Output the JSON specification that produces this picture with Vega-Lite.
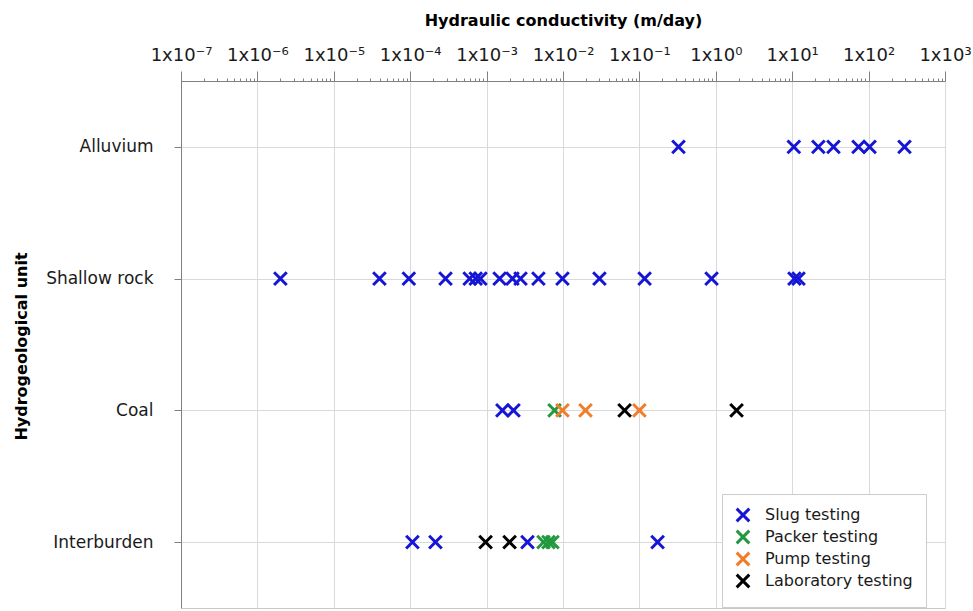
{
  "$schema": "https://vega.github.io/schema/vega-lite/v6.json",
  "width": 764,
  "height": 527,
  "autosize": "none",
  "padding": {"left": 181, "top": 81, "right": 28, "bottom": 3},
  "background": "white",
  "config": {"font": "DejaVu Sans", "view": {"stroke": "#c8c8c8"}},
  "data": {"values": [
    {"unit": "Alluvium", "k": 0.325, "method": "Slug testing"},
    {"unit": "Alluvium", "k": 10.5, "method": "Slug testing"},
    {"unit": "Alluvium", "k": 22, "method": "Slug testing"},
    {"unit": "Alluvium", "k": 34.7, "method": "Slug testing"},
    {"unit": "Alluvium", "k": 73.8, "method": "Slug testing"},
    {"unit": "Alluvium", "k": 103, "method": "Slug testing"},
    {"unit": "Alluvium", "k": 295, "method": "Slug testing"},
    {"unit": "Shallow rock", "k": 2.0e-6, "method": "Slug testing"},
    {"unit": "Shallow rock", "k": 3.96e-5, "method": "Slug testing"},
    {"unit": "Shallow rock", "k": 9.6e-5, "method": "Slug testing"},
    {"unit": "Shallow rock", "k": 2.9e-4, "method": "Slug testing"},
    {"unit": "Shallow rock", "k": 6.0e-4, "method": "Slug testing"},
    {"unit": "Shallow rock", "k": 7.2e-4, "method": "Slug testing"},
    {"unit": "Shallow rock", "k": 8.3e-4, "method": "Slug testing"},
    {"unit": "Shallow rock", "k": 1.48e-3, "method": "Slug testing"},
    {"unit": "Shallow rock", "k": 2.18e-3, "method": "Slug testing"},
    {"unit": "Shallow rock", "k": 2.78e-3, "method": "Slug testing"},
    {"unit": "Shallow rock", "k": 4.77e-3, "method": "Slug testing"},
    {"unit": "Shallow rock", "k": 9.84e-3, "method": "Slug testing"},
    {"unit": "Shallow rock", "k": 0.030, "method": "Slug testing"},
    {"unit": "Shallow rock", "k": 0.117, "method": "Slug testing"},
    {"unit": "Shallow rock", "k": 0.88, "method": "Slug testing"},
    {"unit": "Shallow rock", "k": 10.7, "method": "Slug testing"},
    {"unit": "Shallow rock", "k": 12.1, "method": "Slug testing"},
    {"unit": "Coal", "k": 1.61e-3, "method": "Slug testing"},
    {"unit": "Coal", "k": 2.25e-3, "method": "Slug testing"},
    {"unit": "Interburden", "k": 1.07e-4, "method": "Slug testing"},
    {"unit": "Interburden", "k": 2.14e-4, "method": "Slug testing"},
    {"unit": "Interburden", "k": 3.43e-3, "method": "Slug testing"},
    {"unit": "Interburden", "k": 0.173, "method": "Slug testing"},
    {"unit": "Coal", "k": 7.75e-3, "method": "Packer testing"},
    {"unit": "Interburden", "k": 5.56e-3, "method": "Packer testing"},
    {"unit": "Interburden", "k": 6.46e-3, "method": "Packer testing"},
    {"unit": "Interburden", "k": 7.28e-3, "method": "Packer testing"},
    {"unit": "Coal", "k": 9.84e-3, "method": "Pump testing"},
    {"unit": "Coal", "k": 0.0197, "method": "Pump testing"},
    {"unit": "Coal", "k": 0.1, "method": "Pump testing"},
    {"unit": "Coal", "k": 0.064, "method": "Laboratory testing"},
    {"unit": "Coal", "k": 1.87, "method": "Laboratory testing"},
    {"unit": "Interburden", "k": 9.7e-4, "method": "Laboratory testing"},
    {"unit": "Interburden", "k": 2.0e-3, "method": "Laboratory testing"}
  ]},
  "mark": {"type": "point", "shape": "M-1,-1L1,1M-1,1L1,-1", "filled": false, "strokeWidth": 3, "size": 160, "opacity": 1},
  "encoding": {
    "x": {
      "field": "k",
      "type": "quantitative",
      "scale": {"type": "log", "domain": [1e-7, 1000], "nice": false},
      "axis": {
        "orient": "top",
        "title": "Hydraulic conductivity (m/day)",
        "titleFontSize": 16,
        "titleFontWeight": "bold",
        "titleColor": "black",
        "titleY": -56,
        "titleBaseline": "alphabetic",
        "values": [1e-7,2e-7,3e-7,4e-7,5e-7,6e-7,7e-7,8e-7,9e-7,
                   1e-6,2e-6,3e-6,4e-6,5e-6,6e-6,7e-6,8e-6,9e-6,
                   1e-5,2e-5,3e-5,4e-5,5e-5,6e-5,7e-5,8e-5,9e-5,
                   1e-4,2e-4,3e-4,4e-4,5e-4,6e-4,7e-4,8e-4,9e-4,
                   1e-3,2e-3,3e-3,4e-3,5e-3,6e-3,7e-3,8e-3,9e-3,
                   1e-2,2e-2,3e-2,4e-2,5e-2,6e-2,7e-2,8e-2,9e-2,
                   1e-1,2e-1,3e-1,4e-1,5e-1,6e-1,7e-1,8e-1,9e-1,
                   1,2,3,4,5,6,7,8,9,
                   10,20,30,40,50,60,70,80,90,
                   100,200,300,400,500,600,700,800,900,1000],
        "labelExpr": "abs(log(datum.value)/LN10 - round(log(datum.value)/LN10)) < 0.001 ? '1x10' + ['⁻⁷','⁻⁶','⁻⁵','⁻⁴','⁻³','⁻²','⁻¹','⁰','¹','²','³'][round(log(datum.value)/LN10)+7] : ''",
        "labelFontSize": 18,
        "labelColor": "#1a1a1a",
        "labelBaseline": "alphabetic",
        "labelPadding": 11,
        "labelFlush": false,
        "labelOverlap": false,
        "labelBound": false,
        "tickSize": {"condition": {"test": "abs(log(datum.value)/LN10 - round(log(datum.value)/LN10)) < 0.001", "value": 10}, "value": 3},
        "tickColor": "#808080",
        "domainColor": "#808080",
        "grid": true,
        "gridColor": "#d9d9d9",
        "gridOpacity": {"condition": {"test": "abs(log(datum.value)/LN10 - round(log(datum.value)/LN10)) < 0.001", "value": 1}, "value": 0}
      }
    },
    "y": {
      "field": "unit",
      "type": "nominal",
      "sort": ["Alluvium", "Shallow rock", "Coal", "Interburden"],
      "scale": {"type": "point", "padding": 0.5},
      "axis": {
        "title": "Hydrogeological unit",
        "titleFontSize": 16,
        "titleFontWeight": "bold",
        "titleColor": "black",
        "titleAngle": 270,
        "titleX": -160,
        "titleY": 265,
        "titleAlign": "center",
        "titleBaseline": "middle",
        "labelFontSize": 17,
        "labelColor": "#1a1a1a",
        "labelPadding": 21,
        "tickSize": 7,
        "tickColor": "#808080",
        "domainColor": "#808080",
        "grid": true,
        "gridColor": "#d9d9d9"
      }
    },
    "color": {
      "field": "method",
      "type": "nominal",
      "scale": {
        "domain": ["Slug testing", "Packer testing", "Pump testing", "Laboratory testing"],
        "range": ["#1515d6", "#22993f", "#ef7d2a", "#000000"]
      },
      "legend": {
        "orient": "none",
        "legendX": 541,
        "legendY": 413,
        "title": null,
        "symbolType": "M-1,-1L1,1M-1,1L1,-1",
        "symbolSize": 160,
        "symbolStrokeWidth": 3,
        "labelFontSize": 16,
        "labelColor": "#1a1a1a",
        "labelLimit": 300,
        "labelOffset": 14,
        "strokeColor": "#cccccc",
        "fillColor": "white",
        "padding": 13,
        "rowPadding": -4
      }
    }
  }
}
